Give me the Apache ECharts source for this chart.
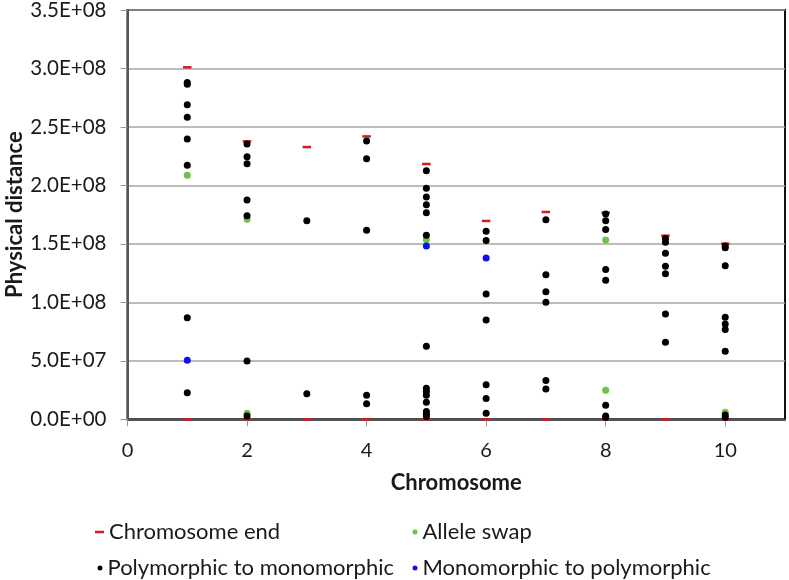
<!DOCTYPE html>
<html>
<head>
<meta charset="utf-8">
<script src="https://cdn.jsdelivr.net/npm/echarts@6/dist/echarts.min.js"></script>
<style>html,body{margin:0;padding:0;background:#fff}#c{width:789px;height:580px}</style>
</head>
<body>
<div id="c"></div>
<script>
// ---- data ----
const chromosomes = [1, 2, 3, 4, 5, 6, 7, 8, 9, 10];
const chromosomeEndTop = [3.01e8, 2.377e8, 2.328e8, 2.419e8, 2.183e8, 1.696e8, 1.773e8, 1.767e8, 1.570e8, 1.502e8];
const chromosomeEndStart = [0, 0, 0, 0, 0, 0, 0, 0, 0, 0];

const alleleSwap = [
  [1, 2.086e8], [2, 1.710e8], [2, 0.051e8], [5, 1.536e8],
  [8, 1.533e8], [8, 0.248e8], [10, 0.060e8]
];
const polyToMono = [
  [1, 2.881e8], [1, 2.865e8], [1, 2.690e8], [1, 2.582e8], [1, 2.397e8], [1, 2.172e8], [1, 0.869e8], [1, 0.228e8],
  [2, 2.354e8], [2, 2.246e8], [2, 2.186e8], [2, 1.875e8], [2, 1.741e8], [2, 0.499e8], [2, 0.028e8],
  [3, 1.698e8], [3, 0.219e8],
  [4, 2.380e8], [4, 2.229e8], [4, 1.616e8], [4, 0.205e8], [4, 0.134e8],
  [5, 2.126e8], [5, 1.975e8], [5, 1.901e8], [5, 1.835e8], [5, 1.767e8], [5, 1.573e8], [5, 0.624e8],
  [5, 0.265e8], [5, 0.237e8], [5, 0.205e8], [5, 0.145e8], [5, 0.066e8], [5, 0.043e8], [5, 0.023e8],
  [6, 1.607e8], [6, 1.530e8], [6, 1.072e8], [6, 0.849e8], [6, 0.296e8], [6, 0.177e8], [6, 0.051e8],
  [7, 1.707e8], [7, 1.237e8], [7, 1.091e8], [7, 1.000e8], [7, 0.331e8], [7, 0.259e8],
  [8, 1.755e8], [8, 1.698e8], [8, 1.624e8], [8, 1.280e8], [8, 1.188e8], [8, 0.120e8], [8, 0.028e8], [8, 0.017e8],
  [9, 1.547e8], [9, 1.513e8], [9, 1.419e8], [9, 1.308e8], [9, 1.245e8], [9, 0.901e8], [9, 0.658e8],
  [10, 1.482e8], [10, 1.468e8], [10, 1.314e8], [10, 0.872e8], [10, 0.815e8], [10, 0.767e8], [10, 0.581e8],
  [10, 0.037e8], [10, 0.017e8]
];
const monoToPoly = [[1, 0.504e8], [5, 1.482e8], [6, 1.379e8]];

const xTicks = [0, 2, 4, 6, 8, 10];
const seriesNames = ['Chromosome end', 'Allele swap', 'Polymorphic to monomorphic', 'Monomorphic to polymorphic'];

// ---- build ----
const endData = [];
chromosomes.forEach((c, i) => {
  endData.push([c, chromosomeEndStart[i]]);
  endData.push([c, chromosomeEndTop[i]]);
});

function sci(v) {
  const parts = Number(v).toExponential(1).toUpperCase().split('E');
  let e = parts[1];
  const sign = e[0] === '-' ? '-' : '+';
  e = e.replace(/[+-]/, '');
  if (e.length < 2) e = '0' + e;
  return parts[0] + 'E' + sign + e;
}

const FONT = 'Lato';
const TXT = '#1a1a1a';
const legendText = { fontFamily: FONT, fontSize: 22, color: TXT, lineHeight: 22 };
function oneLegend(name, icon, left, top, w, h, gap) {
  return {
    left: left, top: top, orient: 'horizontal', itemWidth: w, itemHeight: h, itemTextGap: gap,
    data: [{ name: name, icon: icon }], textStyle: legendText
  };
}

const chart = echarts.init(document.getElementById('c'), null, { renderer: 'canvas' });
chart.setOption({
  animation: false,
  backgroundColor: '#fff',
  textStyle: { fontFamily: FONT, color: TXT },
  grid: {
    left: 127.5, right: 4, top: 10, bottom: 160.7, containLabel: false, outerBoundsMode: 'none',
    show: true, borderColor: '#111', borderWidth: 2, backgroundColor: 'transparent'
  },
  xAxis: {
    type: 'value', min: 0, max: 11, interval: 2,
    name: 'Chromosome', nameLocation: 'middle', nameGap: 53, nameMoveOverlap: false,
    nameTextStyle: { fontFamily: FONT, fontSize: 22, fontWeight: 'bold', color: TXT },
    axisLine: { show: true, onZero: false, lineStyle: { color: '#555', width: 2 } },
    axisTick: { show: true, inside: false, length: 7, lineStyle: { color: '#999', width: 1 }, customValues: xTicks },
    axisLabel: { fontFamily: FONT, fontSize: 20, color: TXT, margin: 21, customValues: xTicks },
    splitLine: { show: false }
  },
  yAxis: {
    type: 'value', min: 0, max: 3.5e8, interval: 5e7,
    name: 'Physical distance', nameLocation: 'middle', nameGap: 102, nameMoveOverlap: false,
    nameTextStyle: { fontFamily: FONT, fontSize: 22, fontWeight: 'bold', color: TXT },
    axisLine: { show: true, onZero: false, lineStyle: { color: '#555', width: 2 } },
    axisTick: { show: true, inside: false, length: 7, lineStyle: { color: '#999', width: 1 } },
    axisLabel: { fontFamily: FONT, fontSize: 20.5, color: TXT, margin: 21, formatter: sci },
    splitLine: { show: true, lineStyle: { color: '#a6a6a6', width: 1.5 } }
  },
  legend: [
    oneLegend(seriesNames[0], 'rect', 90, 516, 9, 2.5, 10),
    oneLegend(seriesNames[2], 'circle', 92.5, 552, 5, 5, 11.5),
    oneLegend(seriesNames[1], 'circle', 407.5, 516, 5, 5, 10.5),
    oneLegend(seriesNames[3], 'circle', 407.5, 552, 5, 5, 10.5)
  ],
  series: [
    { name: seriesNames[0], type: 'scatter', symbol: 'rect', symbolSize: [8.5, 2.5], itemStyle: { color: '#d01c1c', opacity: 1 }, data: endData, z: 1 },
    { name: seriesNames[1], type: 'scatter', symbol: 'circle', symbolSize: 7, itemStyle: { color: '#6cc24a', opacity: 1 }, data: alleleSwap, z: 2 },
    { name: seriesNames[2], type: 'scatter', symbol: 'circle', symbolSize: 7, itemStyle: { color: '#000', opacity: 1 }, data: polyToMono, z: 3 },
    { name: seriesNames[3], type: 'scatter', symbol: 'circle', symbolSize: 7, itemStyle: { color: '#1010ee', opacity: 1 }, data: monoToPoly, z: 4 }
  ]
});
</script>
</body>
</html>
